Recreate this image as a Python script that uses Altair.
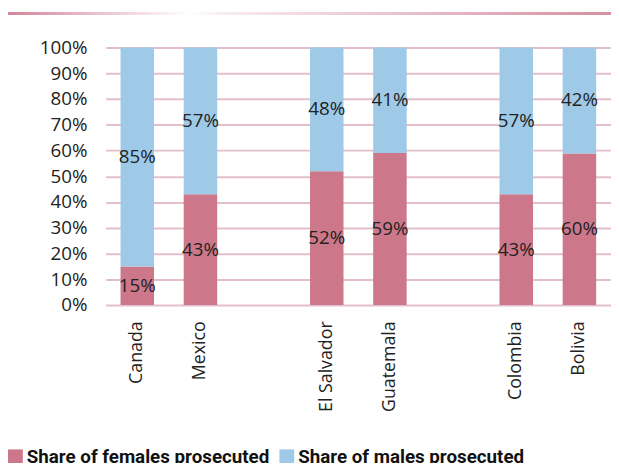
import altair as alt
import pandas as pd

countries = ["Canada", "Mexico", "El Salvador", "Guatemala", "Colombia", "Bolivia"]
slots = ["Canada", "Mexico", "gap1", "El Salvador", "Guatemala", "gap2", "Colombia", "Bolivia"]
female = [15, 43, 52, 59, 43, 60]
male = [85, 57, 48, 41, 57, 42]
series = ["Share of females prosecuted", "Share of males prosecuted"]
colors = ["#CD778A", "#9ECAE8"]
y_ticks = [0, 0.1, 0.2, 0.3, 0.4, 0.5, 0.6, 0.7, 0.8, 0.9, 1.0]

rows = []
for c, f, m in zip(countries, female, male):
    rows.append({"country": c, "series": series[0], "value": f, "order": 0})
    rows.append({"country": c, "series": series[1], "value": m, "order": 1})
df = pd.DataFrame(rows)

W, H = 512, 261
FONT = "Open Sans"

base = alt.Chart(df).transform_stack(
    stack="value", groupby=["country"], as_=["y0", "y1"],
    offset="normalize", sort=[alt.SortField("order")]
).transform_calculate(
    mid="(datum.y0 + datum.y1) / 2", label="datum.value + '%'"
)

xscale = alt.Scale(domain=slots, paddingInner=0.47, paddingOuter=0.235)
yscale = alt.Scale(domain=[0, 1], nice=False)

xaxis = alt.Axis(title=None, labelAngle=-90, labelFontSize=18, labelFont=FONT,
                 labelColor="#222222", ticks=False, domain=False, labelPadding=16,
                 labelAlign="right", labelBaseline="middle", labelOverlap=False,
                 labelExpr="indexof(datum.value, 'gap') == 0 ? '' : datum.value")
yaxis = alt.Axis(title=None, values=y_ticks, format=".0%", grid=True,
                 gridColor="#E2BFCA", gridWidth=2, ticks=False, domain=False,
                 labelFontSize=19, labelFont=FONT, labelColor="#222222",
                 labelPadding=19, labelOverlap=False)

bars = base.mark_bar().encode(
    x=alt.X("country:N", scale=xscale, axis=xaxis),
    y=alt.Y("y0:Q", scale=yscale, axis=yaxis),
    y2="y1:Q",
    color=alt.Color("series:N", scale=alt.Scale(domain=series, range=colors),
                    legend=alt.Legend(title=None, orient="none", legendX=-101, legendY=405,
                                      direction="horizontal", columns=2, symbolType="square",
                                      symbolSize=225, symbolStrokeWidth=0, labelFontSize=19,
                                      labelFont="Roboto", labelFontWeight="bold",
                                      labelColor="#111111", columnPadding=8, labelOffset=2,
                                      padding=0, labelLimit=400)),
)

labels = base.mark_text(fontSize=19, font=FONT, color="#222222").encode(
    x=alt.X("country:N", scale=xscale, axis=xaxis),
    y=alt.Y("mid:Q", scale=yscale, axis=yaxis),
    text="label:N",
)

line = alt.Chart(pd.DataFrame({"a": [0]})).mark_rect(
    color=alt.Gradient(gradient="linear", x1=0, x2=1, y1=0, y2=0,
                       stops=[alt.GradientStop(color="#D4859A", offset=0),
                              alt.GradientStop(color="#FFFFFF", offset=0.3),
                              alt.GradientStop(color="#F8ECEF", offset=0.36),
                              alt.GradientStop(color="#D68FA1", offset=1)])
).encode(x=alt.value(-99), x2=alt.value(W), y=alt.value(-36), y2=alt.value(-33))

chart = alt.layer(line, bars, labels).properties(
    width=W, height=H,
    autosize=alt.AutoSizeParams(type="none"),
    padding={"left": 99, "top": 37, "right": 0, "bottom": 157},
    background="white",
).configure_view(stroke=None)

chart.save("out.html", embed_options={"renderer": "svg", "actions": False})
